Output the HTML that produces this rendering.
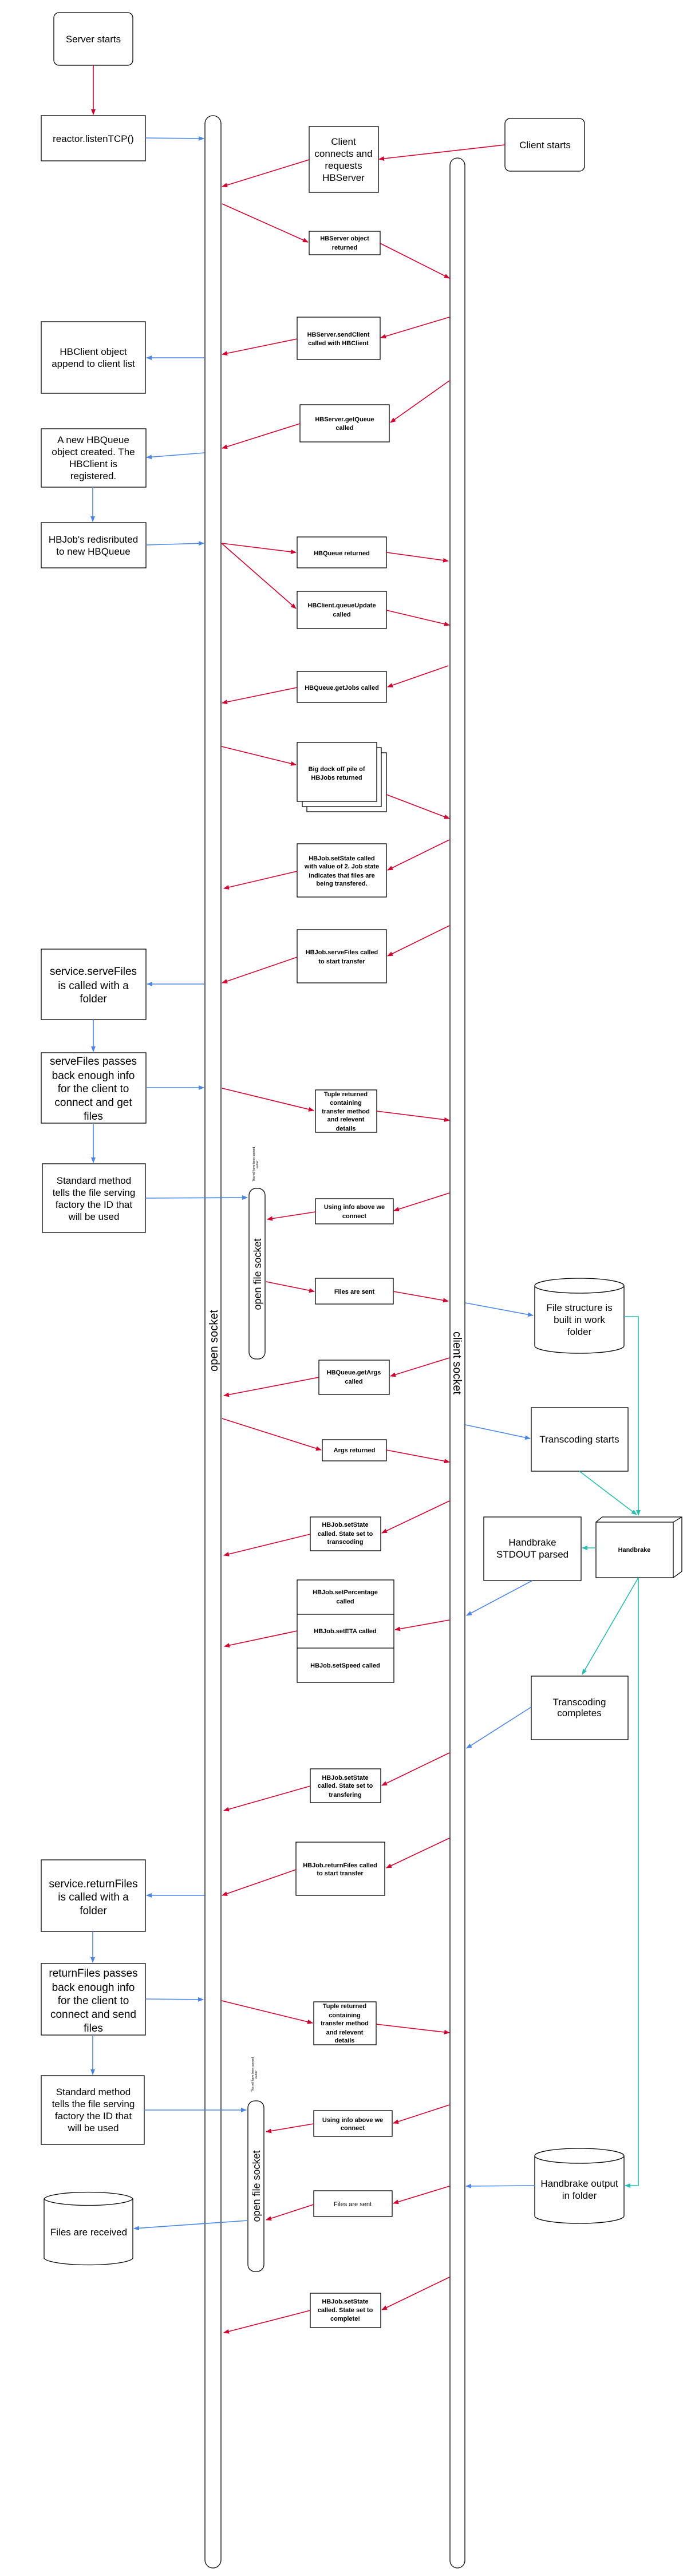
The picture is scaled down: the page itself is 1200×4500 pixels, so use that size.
<!DOCTYPE html>
<html><head><meta charset="utf-8"><style>
html,body{margin:0;padding:0;background:#fff;}
svg{display:block;}
text{font-family:"Liberation Sans",sans-serif;fill:#000;}
.b{font-size:11px;font-weight:bold;}
.m{font-size:17px;}
.l{font-size:19px;}
</style></head><body>
<svg width="1200" height="4500" viewBox="0 0 1200 4500" xmlns="http://www.w3.org/2000/svg">
<defs>
<marker id="ar" markerWidth="10" markerHeight="8" refX="9" refY="4" orient="auto" markerUnits="userSpaceOnUse"><path d="M0,0 L10,4 L0,8 z" fill="#d6002c"/></marker>
<marker id="ab" markerWidth="10" markerHeight="8" refX="9" refY="4" orient="auto" markerUnits="userSpaceOnUse"><path d="M0,0 L10,4 L0,8 z" fill="#4a86e8"/></marker>
<marker id="at" markerWidth="10" markerHeight="8" refX="9" refY="4" orient="auto" markerUnits="userSpaceOnUse"><path d="M0,0 L10,4 L0,8 z" fill="#26bdb2"/></marker>
</defs>
<g fill="#fff" stroke="#000" stroke-width="1.3">
<!-- lanes -->
<rect x="358" y="202" width="28" height="4284" rx="14"/>
<rect x="786" y="276" width="26" height="4210" rx="13"/>
<rect x="435" y="2076" width="28" height="298" rx="12"/>
<rect x="433" y="3670" width="28" height="298" rx="12"/>
<!-- boxes -->
<rect x="94" y="22" width="138" height="92" rx="9"/>
<rect x="72" y="202" width="182" height="79"/>
<rect x="540" y="221" width="121" height="115"/>
<rect x="882" y="207" width="139" height="92" rx="9"/>
<rect x="540" y="404" width="124" height="41"/>
<rect x="519" y="554" width="145" height="74"/>
<rect x="72" y="562" width="182" height="125"/>
<rect x="524" y="707" width="156" height="65"/>
<rect x="72" y="749" width="183" height="102"/>
<rect x="72" y="913" width="183" height="79"/>
<rect x="519" y="938" width="156" height="54"/>
<rect x="519" y="1033" width="156" height="65"/>
<rect x="519" y="1173" width="156" height="54"/>
<rect x="536" y="1315" width="139" height="103"/>
<rect x="528" y="1306" width="138" height="103"/>
<rect x="519" y="1297" width="139" height="103"/>
<rect x="519" y="1474" width="156" height="93"/>
<rect x="519" y="1624" width="156" height="93"/>
<rect x="72" y="1658" width="183" height="123"/>
<rect x="72" y="1839" width="183" height="123"/>
<rect x="551" y="1904" width="107" height="74"/>
<rect x="74" y="2033" width="180" height="120"/>
<rect x="551" y="2094" width="136" height="44"/>
<rect x="551" y="2233" width="136" height="45"/>
<rect x="557" y="2376" width="123" height="60"/>
<rect x="563" y="2515" width="112" height="37"/>
<rect x="928" y="2459" width="169" height="111"/>
<rect x="542" y="2650" width="123" height="59"/>
<rect x="845" y="2650" width="170" height="111"/>
<path d="M1041,2659 L1052,2650 L1191,2650 L1191,2745 L1176,2756 L1041,2756 Z"/>
<path d="M1041,2659 L1176,2659 L1176,2756 M1176,2659 L1191,2650" fill="none"/>
<rect x="519" y="2760" width="169" height="179"/>
<line x1="519" y1="2820" x2="688" y2="2820"/>
<line x1="519" y1="2879" x2="688" y2="2879"/>
<rect x="928" y="2928" width="169" height="111"/>
<rect x="542" y="3090" width="123" height="59"/>
<rect x="517" y="3218" width="155" height="93"/>
<rect x="72" y="3249" width="182" height="125"/>
<rect x="72" y="3430" width="182" height="125"/>
<rect x="548" y="3497" width="109" height="75"/>
<rect x="72" y="3626" width="180" height="120"/>
<rect x="548" y="3687" width="137" height="45"/>
<rect x="548" y="3827" width="137" height="45"/>
<rect x="542" y="4006" width="123" height="60"/>
<!-- cylinders -->
<path d="M934,2246 L934,2351 A78,13 0 0 0 1090,2351 L1090,2246 A78,13 0 0 0 934,2246 Z"/>
<path d="M934,2246 A78,13 0 0 0 1090,2246" fill="none"/>
<path d="M934,3766 L934,3871 A78,13 0 0 0 1090,3871 L1090,3766 A78,13 0 0 0 934,3766 Z"/>
<path d="M934,3766 A78,13 0 0 0 1090,3766" fill="none"/>
<path d="M77,3841 L77,3945 A78,13 0 0 0 232,3945 L232,3841 A78,13 0 0 0 77,3841 Z"/>
<path d="M77,3841 A78,13 0 0 0 232,3841" fill="none"/>
</g>
<!-- red arrows -->
<g stroke="#d6002c" stroke-width="1.6" fill="none" marker-end="url(#ar)">
<line x1="163" y1="114" x2="163" y2="200"/>
<line x1="882" y1="253" x2="662" y2="278"/>
<line x1="540" y1="279" x2="388" y2="326"/>
<line x1="388" y1="356" x2="538" y2="423"/>
<line x1="664" y1="425" x2="785" y2="486"/>
<line x1="785" y1="554" x2="665" y2="590"/>
<line x1="519" y1="592" x2="388" y2="619"/>
<line x1="785" y1="665" x2="682" y2="738"/>
<line x1="524" y1="740" x2="388" y2="783"/>
<line x1="387" y1="949" x2="517" y2="965"/>
<line x1="675" y1="965" x2="783" y2="980"/>
<line x1="387" y1="949" x2="517" y2="1063"/>
<line x1="675" y1="1066" x2="785" y2="1092"/>
<line x1="783" y1="1163" x2="677" y2="1200"/>
<line x1="519" y1="1201" x2="388" y2="1228"/>
<line x1="387" y1="1304" x2="517" y2="1336"/>
<line x1="675" y1="1388" x2="785" y2="1430"/>
<line x1="785" y1="1467" x2="677" y2="1520"/>
<line x1="519" y1="1522" x2="391" y2="1552"/>
<line x1="785" y1="1617" x2="677" y2="1670"/>
<line x1="519" y1="1672" x2="388" y2="1717"/>
<line x1="388" y1="1901" x2="548" y2="1940"/>
<line x1="658" y1="1941" x2="785" y2="1957"/>
<line x1="785" y1="2084" x2="688" y2="2115"/>
<line x1="551" y1="2117" x2="467" y2="2130"/>
<line x1="465" y1="2239" x2="549" y2="2256"/>
<line x1="687" y1="2256" x2="783" y2="2273"/>
<line x1="785" y1="2372" x2="682" y2="2404"/>
<line x1="557" y1="2406" x2="391" y2="2438"/>
<line x1="388" y1="2478" x2="561" y2="2533"/>
<line x1="675" y1="2533" x2="785" y2="2554"/>
<line x1="785" y1="2622" x2="667" y2="2678"/>
<line x1="542" y1="2680" x2="391" y2="2717"/>
<line x1="785" y1="2830" x2="690" y2="2847"/>
<line x1="519" y1="2849" x2="392" y2="2876"/>
<line x1="785" y1="3062" x2="667" y2="3119"/>
<line x1="542" y1="3120" x2="391" y2="3163"/>
<line x1="785" y1="3211" x2="675" y2="3263"/>
<line x1="517" y1="3266" x2="388" y2="3311"/>
<line x1="387" y1="3495" x2="546" y2="3534"/>
<line x1="657" y1="3536" x2="785" y2="3551"/>
<line x1="785" y1="3677" x2="687" y2="3709"/>
<line x1="548" y1="3710" x2="465" y2="3724"/>
<line x1="785" y1="3819" x2="687" y2="3849"/>
<line x1="548" y1="3851" x2="465" y2="3878"/>
<line x1="785" y1="3978" x2="667" y2="4035"/>
<line x1="542" y1="4036" x2="391" y2="4075"/>
</g>
<!-- blue arrows -->
<g stroke="#4a86e8" stroke-width="1.6" fill="none" marker-end="url(#ab)">
<line x1="254" y1="241" x2="356" y2="242"/>
<line x1="358" y1="625" x2="256" y2="625"/>
<line x1="357" y1="791" x2="256" y2="799"/>
<line x1="162" y1="851" x2="162" y2="911"/>
<line x1="255" y1="952" x2="356" y2="949"/>
<line x1="358" y1="1719" x2="257" y2="1719"/>
<line x1="163" y1="1781" x2="163" y2="1837"/>
<line x1="255" y1="1900" x2="356" y2="1900"/>
<line x1="163" y1="1962" x2="163" y2="2031"/>
<line x1="254" y1="2093" x2="432" y2="2092"/>
<line x1="813" y1="2276" x2="931" y2="2298"/>
<line x1="813" y1="2489" x2="926" y2="2513"/>
<line x1="930" y1="2761" x2="815" y2="2822"/>
<line x1="928" y1="2982" x2="815" y2="3054"/>
<line x1="357" y1="3311" x2="256" y2="3311"/>
<line x1="162" y1="3374" x2="162" y2="3428"/>
<line x1="254" y1="3492" x2="355" y2="3493"/>
<line x1="162" y1="3555" x2="162" y2="3624"/>
<line x1="252" y1="3686" x2="430" y2="3686"/>
<line x1="433" y1="3879" x2="234" y2="3893"/>
<line x1="934" y1="3818" x2="814" y2="3819"/>
</g>
<!-- teal -->
<g stroke="#26bdb2" stroke-width="1.6" fill="none" marker-end="url(#at)">
<polyline points="1090,2300 1115,2300 1115,2647"/>
<line x1="1012" y1="2570" x2="1112" y2="2646"/>
<line x1="1041" y1="2704" x2="1017" y2="2704"/>
<line x1="1115" y1="2756" x2="1017" y2="2925"/>
<polyline points="1115,2756 1115,3818 1092,3818"/>
</g>
<!-- texts -->
<g text-anchor="middle">
<text class="m" x="163" y="74">Server starts</text>
<text class="m" x="163" y="248">reactor.listenTCP()</text>
<text class="m" x="600"><tspan x="600" y="253">Client</tspan><tspan x="600" y="274">connects and</tspan><tspan x="600" y="295">requests</tspan><tspan x="600" y="316">HBServer</tspan></text>
<text class="m" x="952" y="259">Client starts</text>
<text class="b"><tspan x="602" y="420">HBServer object</tspan><tspan x="602" y="436">returned</tspan></text>
<text class="b"><tspan x="591" y="588">HBServer.sendClient</tspan><tspan x="591" y="603">called with HBClient</tspan></text>
<text class="m"><tspan x="163" y="620">HBClient object</tspan><tspan x="163" y="641">append to client list</tspan></text>
<text class="b"><tspan x="602" y="736">HBServer.getQueue</tspan><tspan x="602" y="751">called</tspan></text>
<text class="m"><tspan x="163" y="774">A new HBQueue</tspan><tspan x="163" y="795">object created. The</tspan><tspan x="163" y="816">HBClient is</tspan><tspan x="163" y="837">registered.</tspan></text>
<text class="m"><tspan x="163" y="948">HBJob's redisributed</tspan><tspan x="163" y="969">to new HBQueue</tspan></text>
<text class="b" x="597" y="970">HBQueue returned</text>
<text class="b"><tspan x="597" y="1061">HBClient.queueUpdate</tspan><tspan x="597" y="1077">called</tspan></text>
<text class="b" x="597" y="1205">HBQueue.getJobs called</text>
<text class="b"><tspan x="588" y="1347">Big dock off pile of</tspan><tspan x="588" y="1362">HBJobs returned</tspan></text>
<text class="b"><tspan x="597" y="1503">HBJob.setState called</tspan><tspan x="597" y="1517">with value of 2. Job state</tspan><tspan x="597" y="1533">indicates that files are</tspan><tspan x="597" y="1547">being transfered.</tspan></text>
<text class="b"><tspan x="597" y="1667">HBJob.serveFiles called</tspan><tspan x="597" y="1683">to start transfer</tspan></text>
<text class="l"><tspan x="163" y="1703">service.serveFiles</tspan><tspan x="163" y="1728">is called with a</tspan><tspan x="163" y="1751">folder</tspan></text>
<text class="l"><tspan x="163" y="1860">serveFiles passes</tspan><tspan x="163" y="1885">back enough info</tspan><tspan x="163" y="1908">for the client to</tspan><tspan x="163" y="1932">connect and get</tspan><tspan x="163" y="1956">files</tspan></text>
<text class="b"><tspan x="604" y="1915">Tuple returned</tspan><tspan x="604" y="1930">containing</tspan><tspan x="604" y="1945">transfer method</tspan><tspan x="604" y="1959">and relevent</tspan><tspan x="604" y="1975">details</tspan></text>
<text class="m"><tspan x="164" y="2068">Standard method</tspan><tspan x="164" y="2089">tells the file serving</tspan><tspan x="164" y="2110">factory the ID that</tspan><tspan x="164" y="2131">will be used</tspan></text>
<text class="b"><tspan x="619" y="2112">Using info above we</tspan><tspan x="619" y="2128">connect</tspan></text>
<text class="b" x="619" y="2260">Files are sent</text>
<text class="m"><tspan x="1012" y="2290">File structure is</tspan><tspan x="1012" y="2311">built in work</tspan><tspan x="1012" y="2332">folder</tspan></text>
<text class="b"><tspan x="618" y="2401">HBQueue.getArgs</tspan><tspan x="618" y="2417">called</tspan></text>
<text class="b" x="619" y="2537">Args returned</text>
<text class="m" x="1012" y="2520">Transcoding starts</text>
<text class="b"><tspan x="603" y="2667">HBJob.setState</tspan><tspan x="603" y="2683">called. State set to</tspan><tspan x="603" y="2697">transcoding</tspan></text>
<text class="m"><tspan x="930" y="2700">Handbrake</tspan><tspan x="930" y="2721">STDOUT parsed</tspan></text>
<text class="b" x="1108" y="2711">Handbrake</text>
<text class="b"><tspan x="603" y="2785">HBJob.setPercentage</tspan><tspan x="603" y="2801">called</tspan></text>
<text class="b" x="603" y="2853">HBJob.setETA called</text>
<text class="b" x="603" y="2913">HBJob.setSpeed called</text>
<text class="m"><tspan x="1012" y="2979">Transcoding</tspan><tspan x="1012" y="2998">completes</tspan></text>
<text class="b"><tspan x="603" y="3109">HBJob.setState</tspan><tspan x="603" y="3123">called. State set to</tspan><tspan x="603" y="3139">transfering</tspan></text>
<text class="b"><tspan x="594" y="3262">HBJob.returnFiles called</tspan><tspan x="594" y="3276">to start transfer</tspan></text>
<text class="l"><tspan x="163" y="3297">service.returnFiles</tspan><tspan x="163" y="3320">is called with a</tspan><tspan x="163" y="3344">folder</tspan></text>
<text class="l"><tspan x="163" y="3453">returnFiles passes</tspan><tspan x="163" y="3478">back enough info</tspan><tspan x="163" y="3501">for the client to</tspan><tspan x="163" y="3525">connect and send</tspan><tspan x="163" y="3549">files</tspan></text>
<text class="b"><tspan x="602" y="3508">Tuple returned</tspan><tspan x="602" y="3524">containing</tspan><tspan x="602" y="3538">transfer method</tspan><tspan x="602" y="3554">and relevent</tspan><tspan x="602" y="3568">details</tspan></text>
<text class="m"><tspan x="163" y="3660">Standard method</tspan><tspan x="163" y="3681">tells the file serving</tspan><tspan x="163" y="3702">factory the ID that</tspan><tspan x="163" y="3723">will be used</tspan></text>
<text class="b"><tspan x="616" y="3707">Using info above we</tspan><tspan x="616" y="3721">connect</tspan></text>
<text style="font-size:11px" x="616" y="3854">Files are sent</text>
<text class="m" x="155" y="3905">Files are received</text>
<text class="m"><tspan x="1012" y="3820">Handbrake output</tspan><tspan x="1012" y="3841">in folder</tspan></text>
<text class="b"><tspan x="603" y="4024">HBJob.setState</tspan><tspan x="603" y="4039">called. State set to</tspan><tspan x="603" y="4054">complete!</tspan></text>
<!-- rotated labels -->
<text style="font-size:20px" transform="translate(380,2342) rotate(-90)">open socket</text>
<text style="font-size:20px" transform="translate(792,2381) rotate(90)">client socket</text>
<text style="font-size:18px" transform="translate(456,2226) rotate(-90)">open file socket</text>
<text style="font-size:18px" transform="translate(454,3819) rotate(-90)">open file socket</text>
<text style="font-size:5px" transform="translate(445,2034) rotate(-90)"><tspan x="0" y="0">This will have been opened</tspan><tspan x="0" y="6">earlier</tspan></text>
<text style="font-size:5px" transform="translate(443,3624) rotate(-90)"><tspan x="0" y="0">This will have been opened</tspan><tspan x="0" y="6">earlier</tspan></text>
</g>
</svg>
</body></html>
